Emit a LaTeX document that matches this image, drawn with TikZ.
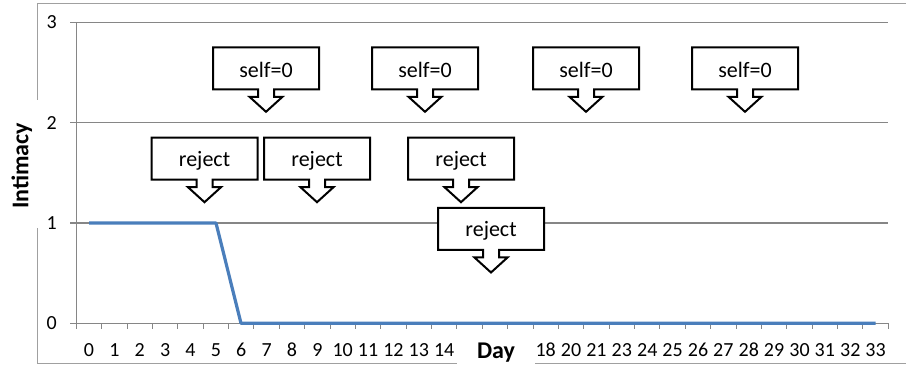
\documentclass[tikz,border=0pt]{standalone}
\usepackage{fontspec}
\setmainfont{Carlito}
\definecolor{gridc}{RGB}{134,134,134}
\definecolor{framec}{RGB}{160,160,160}
\definecolor{serie}{RGB}{74,126,187}
\tikzset{
  gridline/.style={draw=gridc, line width=0.8pt},
  frameline/.style={draw=framec, line width=0.8pt},
  serieline/.style={draw=serie, line width=2.4pt, line join=round},
  ticklab/.style={font=\fontsize{15}{18}\selectfont, inner sep=0pt},
  titlelab/.style={font=\fontsize{18}{22}\selectfont\bfseries, inner sep=0pt},
  callline/.style={draw=black, fill=white, line width=1.5pt, line join=miter},
  callfont/.style={font=\fontsize{16.5}{20}\selectfont, inner sep=0pt},
  pics/callout/.style={code={
    \draw[callline] (-53,-21) -- (53,-21) -- (53,21) -- (8,21) -- (8,28.5) -- (16.5,28.5)
      -- (0,43.5) -- (-16.5,28.5) -- (-8,28.5) -- (-8,21) -- (-53,21) -- cycle;
    \node[callfont] (-text) at (0,2) {#1};
  }}
}
\begin{document}
\begin{tikzpicture}[x=0.75pt,y=-0.75pt]
\useasboundingbox (0,0) rectangle (906,366);
% outer frame with gaps for the axis titles
\draw[frameline] (37.7,228) -- (37.7,363.5) -- (457,363.5);
\draw[frameline] (535,363.5) -- (906,363.5);
\draw[frameline] (37.7,100) -- (37.7,3.3) -- (906,3.3);
% gridlines and y ticks
\foreach \v/\yy in {0/323.3,1/223,2/122.7,3/22.3}{
  \draw[gridline] (70,\yy) -- (888.3,\yy);
  \node[ticklab] (yl\v) at (51.7,\yy) {\v};
}
% y axis
\draw[gridline] (76.3,22.3) -- (76.3,323.3);
% x ticks
\foreach \i in {0,...,32}{
  \draw[gridline] ({76.3+25.375*\i},323.3) -- ({76.3+25.375*\i},329.5);
}
% x labels
\foreach \l [count=\i from 0] in {0,1,2,3,4,5,6,7,8,9,10,11,12,13,14}{
  \node[ticklab] (xl\i) at ({76.3+25.375*(\i+0.5)},350) {\l};
}
\foreach \l [count=\i from 18] in {18,20,21,23,24,25,26,27,28,29,30,31,32,33}{
  \node[ticklab] (xl\i) at ({76.3+25.375*(\i+0.5)},350) {\l};
}
% axis titles
\node[titlelab, anchor=base] (daytitle) at (496,358.3) {Day};
\node[titlelab, anchor=base, rotate=90] (ytitle) at (28.5,166) {Intimacy};
% data series
\coordinate (p0) at (89,223);
\coordinate (p5) at (216,223);
\coordinate (p6) at (241,323.3);
\coordinate (p31) at (875.6,323.3);
\draw[serieline] (p0) -- (p5) -- (p6) -- (p31);
% callouts
\pic (s1) at (266,68.3) {callout={self=0}};
\pic (s2) at (425,68.3) {callout={self=0}};
\pic (s3) at (586,68.3) {callout={self=0}};
\pic (s4) at (745,68.3) {callout={self=0}};
\pic (r1) at (204.5,158.7) {callout={reject}};
\pic (r2) at (317,158.7) {callout={reject}};
\pic (r3) at (461,158.7) {callout={reject}};
\pic (r4) at (491,229) {callout={reject}};
\end{tikzpicture}
\end{document}
